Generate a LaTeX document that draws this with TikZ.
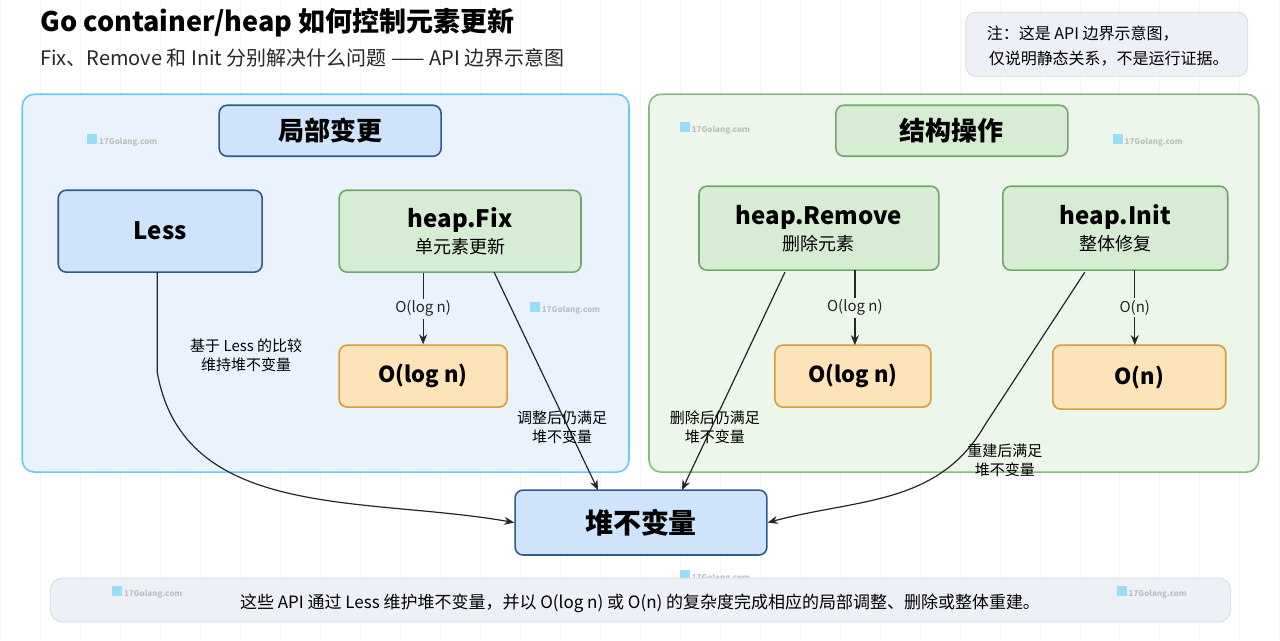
\documentclass[tikz,border=0pt]{standalone}
\usepackage{fontspec}
\setmainfont{Noto Sans CJK SC}
\usetikzlibrary{arrows.meta}
\definecolor{bluef}{HTML}{CFE3FA}
\definecolor{blued}{HTML}{2E5A8C}
\definecolor{greenf}{HTML}{D6EDD3}
\definecolor{greend}{HTML}{6FA86A}
\definecolor{orangef}{HTML}{FDE3B8}
\definecolor{oranged}{HTML}{D99A3A}
\definecolor{panelb}{HTML}{EAF3FD}
\definecolor{panelg}{HTML}{EDF6EA}
\definecolor{greyf}{HTML}{EDF0F6}
\tikzset{
 px/.style={x=0.5pt,y=-0.5pt},
 box/.style={draw,rounded corners=4pt,line width=0.8pt,align=center,inner sep=0pt},
 bbox/.style={box,fill=bluef,draw=blued},
 gbox/.style={box,fill=greenf,draw=greend},
 obox/.style={box,fill=orangef,draw=oranged},
 arr/.style={-{Stealth[length=5pt,width=4pt]},line width=0.6pt,black!85},
 lab/.style={font=\fontsize{7.5}{9.5}\selectfont,align=center,fill=white,inner sep=1pt},
 wm/.style={font=\fontsize{4}{5}\selectfont\bfseries,text=black!25}
}
\begin{document}
\begin{tikzpicture}[px]
\fill[white] (0,0) rectangle (1280,640);
\draw[black!4,line width=0.3pt] (0,0) grid[step=40] (1280,640);
\useasboundingbox (0,0) rectangle (1280,640);
% title
\node[anchor=west,font=\fontsize{13.5}{15}\selectfont\bfseries] (t) at (33,22) {Go container/heap 如何控制元素更新};
\node[anchor=west,font=\fontsize{10}{12}\selectfont,text=black!85] (st) at (33,58) {Fix、Remove 和 Init 分别解决什么问题 —— API 边界示意图};
\draw[black!15,fill=greyf,rounded corners=5pt] (966,12) rectangle (1248,76);
\node[font=\fontsize{8}{10}\selectfont,anchor=west] (n1) at (980,33) {注：这是 API 边界示意图，};
\node[font=\fontsize{8}{10}\selectfont,anchor=east] (n2) at (1236,58) {仅说明静态关系，不是运行证据。};
% panels
\draw[fill=panelb,draw=blue!35!cyan!60,line width=0.8pt,rounded corners=6pt] (22,94) rectangle (629,472);
\draw[fill=panelg,draw=greend!80,line width=0.8pt,rounded corners=6pt] (649,94) rectangle (1259,472);
% watermarks
\foreach \x/\y in {80/140,80/255,523/308,673/128,1106/140,105/592,673/576,1110/592}{
 \node[wm,anchor=west] at (\x,\y) {\textcolor{cyan!40}{\rule{5pt}{5pt}} 17Golang.com};}
% heads
\node[bbox,minimum width=111pt,minimum height=25.5pt,font=\fontsize{13}{15}\selectfont\bfseries] (h1) at (330,130.5) {局部变更};
\node[gbox,minimum width=116pt,minimum height=25.5pt,font=\fontsize{13}{15}\selectfont\bfseries] (h2) at (952,130.5) {结构操作};
% boxes
\node[bbox,minimum width=102pt,minimum height=41pt,font=\fontsize{12}{14}\selectfont\bfseries] (less) at (160,231) {Less};
\node[gbox,minimum width=121pt,minimum height=41pt] (fix) at (460,231) {{\fontsize{12}{14}\selectfont\bfseries heap.Fix}\\[1pt]{\fontsize{9}{11}\selectfont 单元素更新}};
\node[gbox,minimum width=120pt,minimum height=42pt] (rem) at (819,228) {{\fontsize{12}{14}\selectfont\bfseries heap.Remove}\\[1pt]{\fontsize{9}{11}\selectfont 删除元素}};
\node[gbox,minimum width=112.5pt,minimum height=42pt] (init) at (1115.5,228) {{\fontsize{12}{14}\selectfont\bfseries heap.Init}\\[1pt]{\fontsize{9}{11}\selectfont 整体修复}};
\node[obox,minimum width=84pt,minimum height=31pt,font=\fontsize{11}{13}\selectfont\bfseries] (o1) at (423,376) {O(log n)};
\node[obox,minimum width=78pt,minimum height=31pt,font=\fontsize{11}{13}\selectfont\bfseries] (o2) at (853,376) {O(log n)};
\node[obox,minimum width=86.5pt,minimum height=32pt,font=\fontsize{11}{13}\selectfont\bfseries] (o3) at (1139.5,377) {O(n)};
\node[bbox,minimum width=126pt,minimum height=32.5pt,font=\fontsize{14}{16}\selectfont\bfseries] (inv) at (641,522.5) {堆不变量};
% arrows
\draw[arr] (o1.north|-fix.south) -- node[lab,fill=panelb]{O(log n)} (o1.north);
\draw[arr] (855,270) -- node[lab,fill=panelg]{O(log n)} (855,345);
\draw[arr] (1135,270) -- node[lab,fill=panelg]{O(n)} (1135,345);
\coordinate (c1) at (157,372);
\draw[arr] (157,272) -- (c1) to[out=-80,in=170] (inv.west);
\node[lab,fill=panelb] (l1) at (246,355) {基于 Less 的比较\\维持堆不变量};
\draw[arr] (494,272) -- (598,490);
\node[lab,fill=none] (l2) at (562,427) {调整后仍满足\\堆不变量};
\draw[arr] (785,272) -- (682,490);
\node[lab,fill=none] (l3) at (715,427) {删除后仍满足\\堆不变量};
\coordinate (c4) at (985,425);
\draw[arr] (1085,272) -- (c4) to[out=-120,in=15] (inv.east);
\node[lab,fill=none] (l4) at (1005,460) {重建后满足\\堆不变量};
% bottom
\draw[black!15,fill=greyf,rounded corners=6pt] (50,578) rectangle (1231,622);
\foreach \x/\y in {105/592,1110/592}{
 \node[wm,anchor=west] at (\x,\y) {\textcolor{cyan!40}{\rule{5pt}{5pt}} 17Golang.com};}
\node[font=\fontsize{8.5}{10}\selectfont] (bt) at (640,603) {这些 API 通过 Less 维护堆不变量，并以 O(log n) 或 O(n) 的复杂度完成相应的局部调整、删除或整体重建。};
\end{tikzpicture}
\end{document}
